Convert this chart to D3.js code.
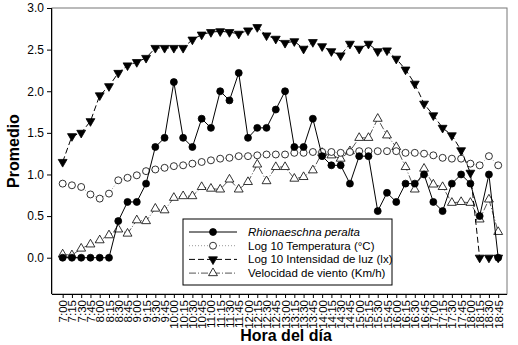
<!DOCTYPE html>
<html>
<head>
<meta charset="utf-8">
<script src="https://cdnjs.cloudflare.com/ajax/libs/d3/7.8.5/d3.min.js"></script>
<style>
    body { margin: 0; background: #fff; }
    svg text { font-family: "Liberation Sans", Arial, sans-serif; }
</style>
</head>
<body>
<div id="chart"></div>
<script>

// x categories (every 15 min)
let times = ["7:00","7:15","7:30","7:45","8:00","8:15","8:30","8:45","9:00","9:15","9:30","9:45",
    "10:00","10:15","10:30","10:45","11:00","11:15","11:30","11:45","12:00","12:15","12:30","12:45",
    "13:00","13:15","13:30","13:45","14:00","14:15","14:30","14:45","15:00","15:15","15:30","15:45",
    "16:00","16:15","16:30","16:45","17:00","17:15","17:30","17:45","18:00","18:15","18:30","18:45"];

let rhionaeschna = [0,0,0,0,0,0,0.44,0.67,0.67,0.89,1.33,1.44,2.11,1.44,1.33,1.67,1.56,2.0,1.89,2.22,
    1.44,1.56,1.56,1.78,2.0,1.33,1.33,1.67,1.22,1.11,1.11,0.89,1.22,1.22,0.56,0.78,0.67,0.89,0.89,1.0,
    0.67,0.56,0.89,1.0,0.89,0.5,1.0,0];

let temperatura = [0.89,0.87,0.85,0.76,0.71,0.77,0.93,0.96,0.99,1.04,1.06,1.08,1.10,1.11,1.13,1.15,
    1.17,1.19,1.20,1.22,1.22,1.23,1.24,1.24,1.24,1.26,1.26,1.27,1.27,1.27,1.26,1.27,1.28,1.28,1.28,1.28,
    1.28,1.26,1.26,1.25,1.23,1.20,1.19,1.19,1.13,1.11,1.22,1.11];

let intensidadLuz = [1.15,1.46,1.50,1.64,1.95,2.06,2.22,2.31,2.35,2.40,2.52,2.52,2.52,2.52,2.62,2.68,
    2.71,2.72,2.71,2.69,2.73,2.77,2.67,2.63,2.58,2.60,2.51,2.59,2.54,2.48,2.43,2.57,2.51,2.57,2.48,2.49,
    2.39,2.26,2.09,1.85,1.71,1.56,1.47,1.29,1.02,0,0,0];

let viento = [0.04,0.03,0.11,0.16,0.21,0.27,0.34,0.29,0.45,0.44,0.59,0.57,0.72,0.74,0.74,0.85,
    0.83,0.82,0.94,0.82,0.91,1.12,0.92,1.09,1.09,0.95,0.97,1.05,1.26,1.23,1.19,1.28,1.44,1.44,1.67,1.47,
    1.33,1.09,0.82,1.07,0.88,0.85,0.66,0.67,0.66,0.46,0.70,0.31];

let yTicks = [0, 0.5, 1.0, 1.5, 2.0, 2.5, 3.0];

let seriesNames = ["Rhionaeschna peralta", "Log 10 Temperatura (\u00B0C)",
    "Log 10 Intensidad de luz (lx)", "Velocidad de viento (Km/h)"];


let margin = { top: 8, right: 11, bottom: 51, left: 52 };
let width = 518 - margin.left - margin.right,
    height = 345 - margin.top - margin.bottom;

let svg = d3.select("#chart").append("svg")
    .attr("width", 518)
    .attr("height", 345)
    .append("g")
    .attr("transform", "translate(" + margin.left + "," + margin.top + ")");

// Scales
let x = d3.scaleLinear()
    .domain([-1.15, times.length - 1 + 0.95])
    .range([0, width]);

let y = d3.scaleLinear()
    .domain([-0.436, 3.0])
    .range([height, 0]);

// frame
svg.append("rect")
    .attr("width", width)
    .attr("height", height)
    .attr("fill", "none")
    .attr("stroke", "#777")
    .attr("stroke-width", 1);

// Axes
let xAxis = d3.axisBottom(x)
    .tickValues(d3.range(times.length))
    .tickSize(4)
    .tickFormat(d => times[d]);

let yAxis = d3.axisLeft(y)
    .tickValues(yTicks)
    .tickSize(5)
    .tickFormat(d3.format(".1f"));

let gx = svg.append("g")
    .attr("class", "x-axis axis")
    .attr("transform", "translate(0," + height + ")")
    .call(xAxis);

gx.select(".domain").attr("stroke", "#000").attr("d", "M0,0.5H" + width);
gx.selectAll("text")
    .attr("font-size", "11.5px")
    .attr("fill", "#000")
    .attr("text-anchor", "end")
    .attr("transform", "rotate(-90)")
    .attr("x", -6)
    .attr("y", 0)
    .attr("dy", "0.35em");

let gy = svg.append("g")
    .attr("class", "y-axis axis")
    .call(yAxis);

gy.select(".domain").attr("stroke", "#000").attr("d", "M-0.5," + height + "V0");
gy.selectAll("text")
    .attr("font-size", "12px")
    .attr("fill", "#000")
    .attr("x", -8);

// Axis titles
svg.append("text")
    .attr("x", 234)
    .attr("y", height + 47)
    .attr("text-anchor", "middle")
    .attr("font-size", "16px")
    .attr("font-weight", "bold")
    .text("Hora del d\u00EDa");

svg.append("text")
    .attr("transform", "translate(-33," + (height / 2) + ") rotate(-90)")
    .attr("text-anchor", "middle")
    .attr("font-size", "16px")
    .attr("font-weight", "bold")
    .text("Promedio");

// series styles
let series = [
    { name: seriesNames[3], values: viento, dash: "7,2,1,2", stroke: "#555", symbol: d3.symbolTriangle, rot: 0, fill: "#fff" },
    { name: seriesNames[1], values: temperatura, dash: "1,2", stroke: "#999", symbol: d3.symbolCircle, rot: 0, fill: "#fff" },
    { name: seriesNames[2], values: intensidadLuz, dash: "6,3", stroke: "#000", symbol: d3.symbolTriangle, rot: 180, fill: "#000" },
    { name: seriesNames[0], values: rhionaeschna, dash: null, stroke: "#000", symbol: d3.symbolCircle, rot: 0, fill: "#000" }
];

let line = d3.line()
    .x((d, i) => x(i))
    .y(d => y(d));

function symbolSize(s) {
    return s.symbol === d3.symbolCircle ? 38 : 34;
}

series.forEach(function(s) {
    svg.append("path")
        .datum(s.values)
        .attr("d", line)
        .attr("fill", "none")
        .attr("stroke", s.stroke)
        .attr("stroke-width", 1)
        .attr("stroke-dasharray", s.dash);

    svg.selectAll(null)
        .data(s.values)
        .enter()
        .append("path")
        .attr("d", d3.symbol().type(s.symbol).size(symbolSize(s)))
        .attr("transform", (d, i) => "translate(" + x(i) + "," + y(d) + ") rotate(" + s.rot + ")")
        .attr("fill", s.fill)
        .attr("stroke", "#000")
        .attr("stroke-width", 0.8);
});

// Legend
let legend = svg.append("g")
    .attr("transform", "translate(131,211)");

legend.append("rect")
    .attr("width", 209)
    .attr("height", 66)
    .attr("fill", "#fff")
    .attr("stroke", "#000")
    .attr("stroke-width", 1);

let legendOrder = [3, 1, 2, 0];
legendOrder.forEach(function(k, i) {
    let s = series[k];
    let row = legend.append("g")
        .attr("transform", "translate(0," + (13 + i * 13.7) + ")");

    row.append("line")
        .attr("x1", 6).attr("x2", 54)
        .attr("stroke", s.stroke)
        .attr("stroke-width", 1)
        .attr("stroke-dasharray", s.dash);

    row.append("path")
        .attr("d", d3.symbol().type(s.symbol).size(symbolSize(s)))
        .attr("transform", "translate(30,0) rotate(" + s.rot + ")")
        .attr("fill", s.fill)
        .attr("stroke", "#000")
        .attr("stroke-width", 0.8);

    row.append("text")
        .attr("x", 65)
        .attr("dy", "0.35em")
        .attr("font-size", "11.5px")
        .attr("font-style", k === 3 ? "italic" : null)
        .text(s.name);
});

</script>
</body>
</html>
